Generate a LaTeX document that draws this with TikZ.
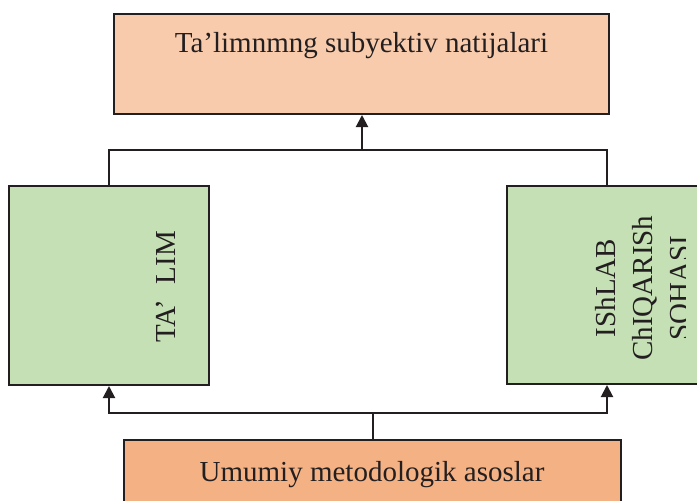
\documentclass[tikz,border=0pt]{standalone}
\usepackage{fontspec}
\setmainfont{Liberation Serif}
\usetikzlibrary{arrows.meta}
\definecolor{topfill}{HTML}{F8CBAD}
\definecolor{botfill}{HTML}{F4B183}
\definecolor{grn}{HTML}{C5E0B4}
\definecolor{ink}{HTML}{231F20}
\begin{document}
\begin{tikzpicture}[x=1pt,y=-1pt,
  box/.style={draw=ink,line width=2pt,rectangle,inner sep=0pt},
  lbl/.style={text=ink,font=\fontsize{29}{37}\selectfont,inner sep=0pt},
  conn/.style={draw=ink,line width=2pt},
  arr/.style={conn,-{Triangle[length=12pt,width=12pt]}}]
\useasboundingbox (0,0) rectangle (697,501);
\clip (0,0) rectangle (697,501);
\node[box,fill=topfill,minimum width=495pt,minimum height=100pt] (top) at (361.5,64) {};
\node[box,fill=grn,minimum width=200pt,minimum height=199pt] (left) at (109,285.5) {};
\node[box,fill=grn,minimum width=200pt,minimum height=198pt] (right) at (607,285) {};
\node[box,fill=botfill,minimum width=497pt,minimum height=100pt] (bot) at (372.5,490) {};
\node[lbl,anchor=base] (toptxt) at (361.5,52) {Ta’limnmng subyektiv natijalari};
\node[lbl,anchor=base] (bottxt) at (372,481) {Umumiy metodologik asoslar};
\node[lbl,rotate=90] (lefttxt) at (166,287) {TA’\hspace{0.3em} LIM};
\begin{scope}
\clip (509,188) rectangle (685,382);
\node[lbl,rotate=90,align=center] (righttxt) at (643,288) {IShLAB\\ChIQARISh\\SOHASI};
\end{scope}
\coordinate (jt) at (362,150);
\coordinate (jb) at (373,413);
\draw[conn] (left.north) |- (jt) -| (right.north);
\draw[arr] (jt) -- (jt |- top.south);
\draw[conn] (bot.north -| jb) -- (jb);
\draw[arr] (jb) -| (left.south);
\draw[arr] (jb) -| (right.south);
\end{tikzpicture}
\end{document}
